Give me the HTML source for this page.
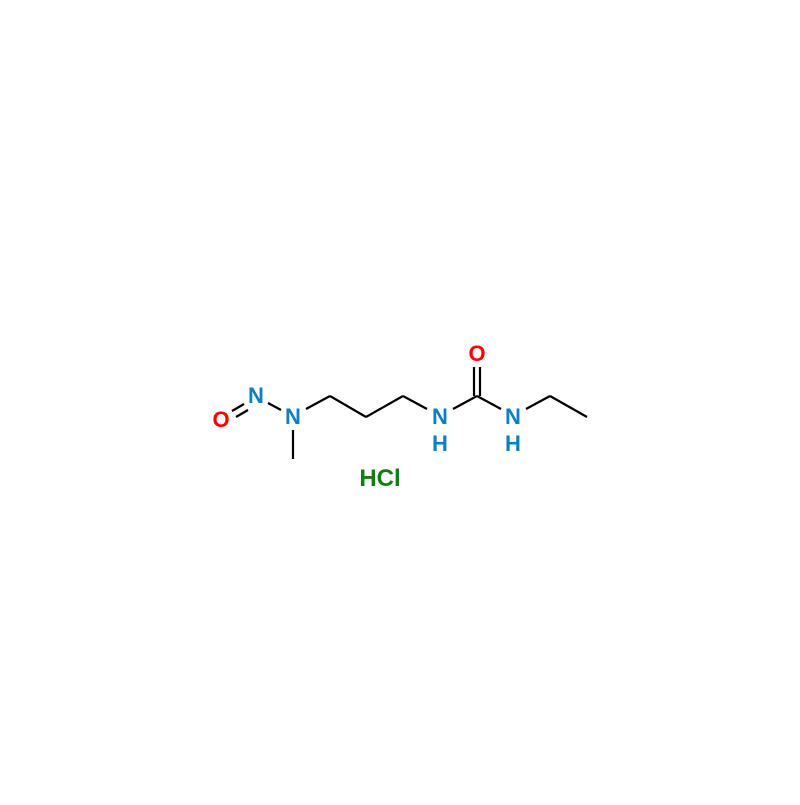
<!DOCTYPE html>
<html><head><style>body{margin:0;background:#fff}</style></head><body>
<svg width="800" height="800" viewBox="0 0 800 800" xmlns="http://www.w3.org/2000/svg">
<rect width="800" height="800" fill="#fff"/>
<g stroke="#000" stroke-width="2.2" fill="none" stroke-linecap="butt">
<line x1="232" y1="411" x2="244" y2="404"/>
<line x1="236" y1="417" x2="248" y2="410"/>
<line x1="268" y1="403" x2="281" y2="410"/>
<line x1="306" y1="409" x2="330" y2="396"/>
<line x1="330" y1="396" x2="366" y2="417"/>
<line x1="366" y1="417" x2="403" y2="396"/>
<line x1="403" y1="396" x2="427" y2="409"/>
<line x1="453" y1="409" x2="477" y2="396"/>
<line x1="474" y1="396" x2="474" y2="367"/>
<line x1="480" y1="396" x2="480" y2="367"/>
<line x1="477" y1="396" x2="501" y2="409"/>
<line x1="526" y1="409" x2="550" y2="396"/>
<line x1="550" y1="396" x2="587" y2="417"/>
<line x1="293" y1="430" x2="293" y2="459"/>
</g>
<g font-family="Liberation Sans, sans-serif" font-weight="bold" font-size="22" text-anchor="middle">
<text x="221" y="427" fill="#ff0000">O</text>
<text x="256" y="403" fill="#0a7fc2">N</text>
<text x="293" y="424" fill="#0a7fc2">N</text>
<text x="440" y="424" fill="#0a7fc2">N</text>
<text x="440" y="451" fill="#0a7fc2">H</text>
<text x="477" y="361" fill="#ff0000">O</text>
<text x="513" y="424" fill="#0a7fc2">N</text>
<text x="513" y="451" fill="#0a7fc2">H</text>
<text x="380" y="486" fill="#107f10" font-size="24">HCl</text>
</g>
</svg>
</body></html>
